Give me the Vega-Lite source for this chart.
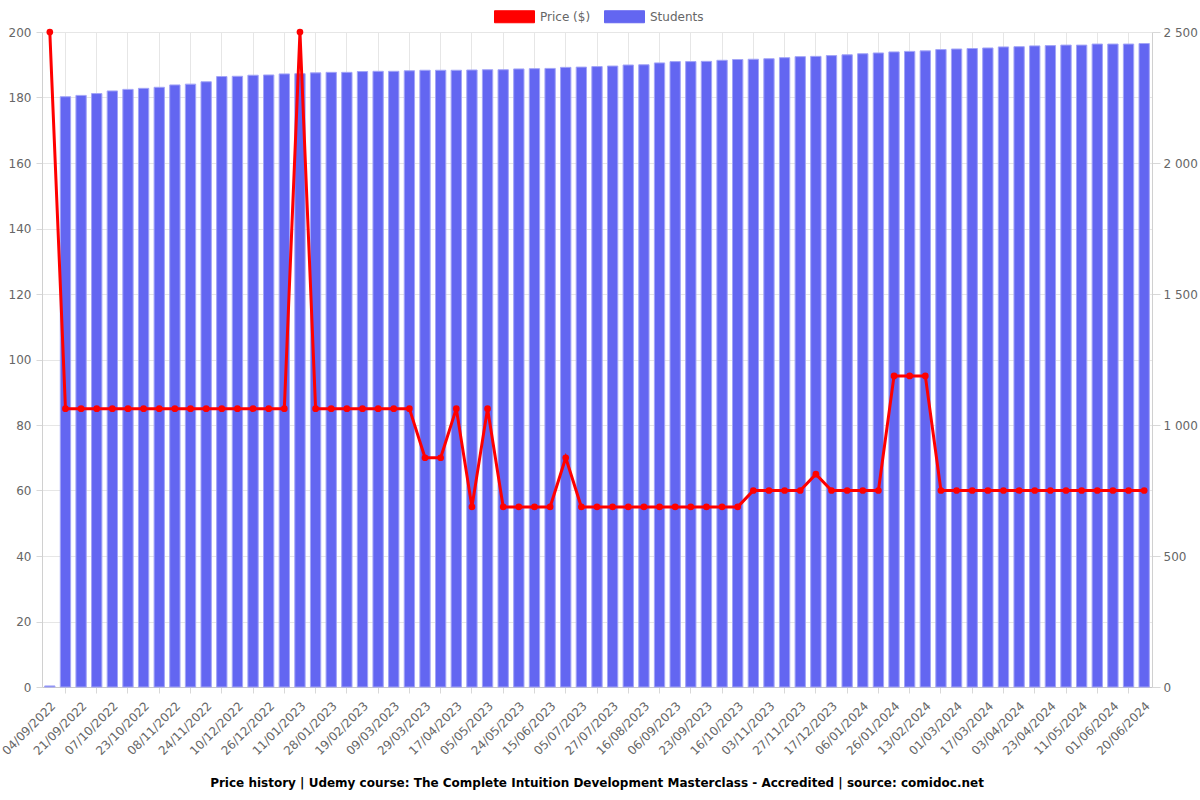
{
  "$schema": "https://vega.github.io/schema/vega-lite/v6.json",
  "width": 1110,
  "height": 655,
  "autosize": {"type": "none"},
  "padding": {"left": 42, "top": 32, "right": 48, "bottom": 113},
  "background": "white",
  "config": {
    "font": "DejaVu Sans",
    "view": {"stroke": null},
    "axis": {"labelFont": "DejaVu Sans", "labelColor": "#666666", "labelFontSize": 12, "gridColor": "#e6e6e6", "domainColor": "#d0d0d0", "tickColor": "#d8d8d8"}
  },
  "title": {"text": "Price history | Udemy course: The Complete Intuition Development Masterclass - Accredited | source: comidoc.net", "orient": "bottom", "anchor": "middle", "fontSize": 12, "fontWeight": "bold", "color": "#000000", "font": "DejaVu Sans", "offset": 21},
  "data": {"values": [
    {"date": "04/09/2022", "price": 200, "students": 4},
    {"date": "12/09/2022", "price": 85, "students": 2253},
    {"date": "21/09/2022", "price": 85, "students": 2258},
    {"date": "29/09/2022", "price": 85, "students": 2265},
    {"date": "07/10/2022", "price": 85, "students": 2275},
    {"date": "15/10/2022", "price": 85, "students": 2281},
    {"date": "23/10/2022", "price": 85, "students": 2285},
    {"date": "31/10/2022", "price": 85, "students": 2289},
    {"date": "08/11/2022", "price": 85, "students": 2298},
    {"date": "16/11/2022", "price": 85, "students": 2301},
    {"date": "24/11/2022", "price": 85, "students": 2310},
    {"date": "02/12/2022", "price": 85, "students": 2330},
    {"date": "10/12/2022", "price": 85, "students": 2331},
    {"date": "18/12/2022", "price": 85, "students": 2335},
    {"date": "26/12/2022", "price": 85, "students": 2336},
    {"date": "03/01/2023", "price": 85, "students": 2340},
    {"date": "11/01/2023", "price": 200, "students": 2341},
    {"date": "19/01/2023", "price": 85, "students": 2344},
    {"date": "28/01/2023", "price": 85, "students": 2346},
    {"date": "07/02/2023", "price": 85, "students": 2346},
    {"date": "19/02/2023", "price": 85, "students": 2349},
    {"date": "28/02/2023", "price": 85, "students": 2350},
    {"date": "09/03/2023", "price": 85, "students": 2350},
    {"date": "19/03/2023", "price": 85, "students": 2352},
    {"date": "29/03/2023", "price": 70, "students": 2354},
    {"date": "08/04/2023", "price": 70, "students": 2354},
    {"date": "17/04/2023", "price": 85, "students": 2354},
    {"date": "26/04/2023", "price": 55, "students": 2355},
    {"date": "05/05/2023", "price": 85, "students": 2356},
    {"date": "14/05/2023", "price": 55, "students": 2356},
    {"date": "24/05/2023", "price": 55, "students": 2359},
    {"date": "04/06/2023", "price": 55, "students": 2360},
    {"date": "15/06/2023", "price": 55, "students": 2361},
    {"date": "25/06/2023", "price": 70, "students": 2365},
    {"date": "05/07/2023", "price": 55, "students": 2366},
    {"date": "16/07/2023", "price": 55, "students": 2368},
    {"date": "27/07/2023", "price": 55, "students": 2370},
    {"date": "06/08/2023", "price": 55, "students": 2374},
    {"date": "16/08/2023", "price": 55, "students": 2375},
    {"date": "27/08/2023", "price": 55, "students": 2382},
    {"date": "06/09/2023", "price": 55, "students": 2387},
    {"date": "14/09/2023", "price": 55, "students": 2387},
    {"date": "23/09/2023", "price": 55, "students": 2388},
    {"date": "05/10/2023", "price": 55, "students": 2392},
    {"date": "16/10/2023", "price": 55, "students": 2395},
    {"date": "25/10/2023", "price": 60, "students": 2396},
    {"date": "03/11/2023", "price": 60, "students": 2398},
    {"date": "15/11/2023", "price": 60, "students": 2402},
    {"date": "27/11/2023", "price": 60, "students": 2406},
    {"date": "07/12/2023", "price": 65, "students": 2407},
    {"date": "17/12/2023", "price": 60, "students": 2410},
    {"date": "27/12/2023", "price": 60, "students": 2413},
    {"date": "06/01/2024", "price": 60, "students": 2417},
    {"date": "16/01/2024", "price": 60, "students": 2420},
    {"date": "26/01/2024", "price": 95, "students": 2424},
    {"date": "04/02/2024", "price": 95, "students": 2426},
    {"date": "13/02/2024", "price": 95, "students": 2428},
    {"date": "22/02/2024", "price": 60, "students": 2433},
    {"date": "01/03/2024", "price": 60, "students": 2435},
    {"date": "09/03/2024", "price": 60, "students": 2437},
    {"date": "17/03/2024", "price": 60, "students": 2439},
    {"date": "25/03/2024", "price": 60, "students": 2443},
    {"date": "03/04/2024", "price": 60, "students": 2444},
    {"date": "13/04/2024", "price": 60, "students": 2447},
    {"date": "23/04/2024", "price": 60, "students": 2448},
    {"date": "02/05/2024", "price": 60, "students": 2450},
    {"date": "11/05/2024", "price": 60, "students": 2450},
    {"date": "21/05/2024", "price": 60, "students": 2454},
    {"date": "01/06/2024", "price": 60, "students": 2454},
    {"date": "10/06/2024", "price": 60, "students": 2454},
    {"date": "20/06/2024", "price": 60, "students": 2456}
  ]},
  "encoding": {
    "x": {
      "field": "date", "type": "ordinal", "sort": null,
      "scale": {"paddingInner": 0.34, "paddingOuter": 0.17},
      "axis": {
        "title": null, "labelAngle": -45, "labelOverlap": false,
        "labelExpr": "round(datum.index*70) % 2 == 0 ? datum.label : ''",
        "grid": true, "bandPosition": 0.5,
        "gridColor": {"condition": {"test": "round(datum.index*70) % 2 == 1", "value": "#e6e6e6"}, "value": "rgba(0,0,0,0)"},
        "tickColor": {"condition": {"test": "round(datum.index*70) % 2 == 1", "value": "#d8d8d8"}, "value": "rgba(0,0,0,0)"},
        "tickSize": 6, "labelPadding": 7, "domainColor": "#c8c8c8"
      }
    }
  },
  "layer": [
    {
      "mark": {"type": "bar", "stroke": "#a3a5f7", "strokeWidth": 1},
      "encoding": {
        "y": {"field": "students", "type": "quantitative", "scale": {"domain": [0, 2500]},
          "axis": {"orient": "right", "title": null, "grid": false, "values": [0, 500, 1000, 1500, 2000, 2500], "labelExpr": "replace(format(datum.value, ','), ',', ' ')", "tickSize": 8, "labelPadding": 3, "domainColor": "#d0d0d0"}},
        "color": {"datum": "Students", "type": "nominal",
          "scale": {"domain": ["Price ($)", "Students"], "range": ["#ff0000", "#6366f1"]},
          "legend": {
            "orient": "none", "legendX": 452, "legendY": -36, "direction": "horizontal", "title": null,
            "symbolType": "M-1,-0.3H1V0.3H-1Z", "symbolSize": 1600, "symbolStrokeWidth": 1,
            "labelFontSize": 12, "labelColor": "#666666", "labelFont": "DejaVu Sans", "labelOffset": 5, "columnPadding": 11,
            "encode": {"symbols": {"update": {"fill": {"scale": "color", "field": "value"}, "stroke": {"scale": "color", "field": "value"}, "opacity": {"value": 1}, "fillOpacity": {"value": 1}, "strokeOpacity": {"value": 0.5}}}}
          }
        }
      }
    },
    {
      "mark": {"type": "line", "strokeWidth": 3, "point": {"filled": true, "size": 45}},
      "encoding": {
        "y": {"field": "price", "type": "quantitative", "scale": {"domain": [0, 200]},
          "axis": {"orient": "left", "title": null, "grid": true, "values": [0, 20, 40, 60, 80, 100, 120, 140, 160, 180, 200], "tickSize": 6, "labelPadding": 5, "domainColor": "#d0d0d0", "gridColor": "#e6e6e6"}},
        "color": {"datum": "Price ($)", "type": "nominal"}
      }
    }
  ],
  "resolve": {"scale": {"y": "independent"}}
}
